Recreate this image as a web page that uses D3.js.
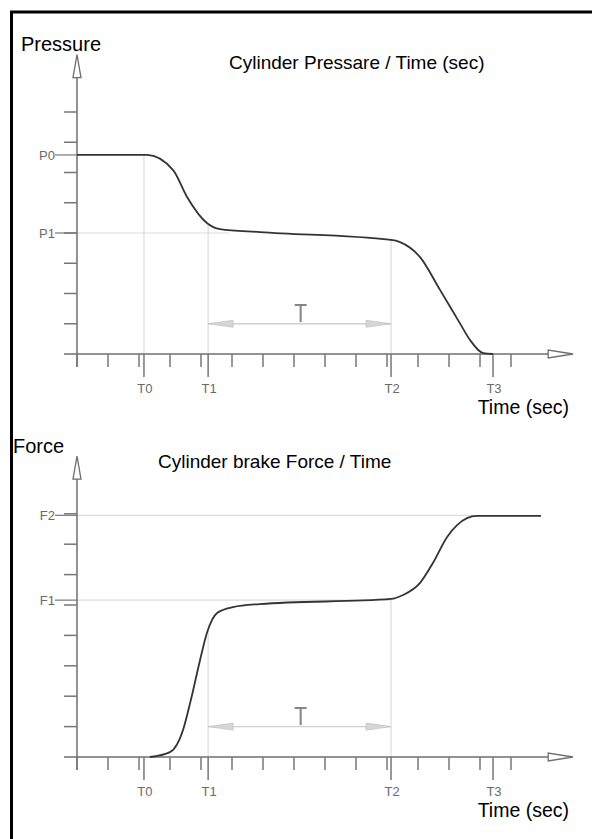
<!DOCTYPE html>
<html>
<head>
<meta charset="utf-8">
<script src="https://cdn.jsdelivr.net/npm/d3@7"></script>
<style>
  body { margin: 0; background: #fff; }
  svg { display: block; font-family: "Liberation Sans", Arial, sans-serif; }
</style>
</head>
<body>
<div class="render"></div>
<script>
// time axis is in "minor tick" units, value axes in y-tick units
var minorTicks = [0, 1, 2, 3, 4, 5, 6, 7, 8, 9, 10, 11, 12, 13, 14];
var valueTicks = [1, 2, 3, 4, 5, 6, 7, 8];
var markNames = ["T0", "T1", "T2", "T3"];
var markTimes = [2.16, 4.23, 10.13, 13.42];

// pressure curve
var pressureTime  = [0, 2.26, 3.10, 3.55, 4.19, 4.61, 5.90, 10.13, 10.42, 11.06, 11.71, 12.35, 12.68, 13.10, 13.42];
var pressureValue = [6.58, 6.58, 6.08, 5.19, 4.33, 4.13, 4.03, 3.77, 3.70, 3.21, 2.12, 1.02, 0.46, 0.03, 0];
var pressureLevels = ["P0", "P1"];
var pressureLevelValues = [6.58, 4.0];

// force curve
var forceTime  = [2.35, 3.0, 3.42, 3.65, 3.97, 4.19, 4.52, 5.03, 5.90, 10.13, 10.52, 11.06, 11.48, 11.94, 12.26, 12.90, 14.97];
var forceValue = [0, 0.16, 0.89, 1.78, 3.19, 4.08, 4.74, 4.93, 5.03, 5.20, 5.33, 5.72, 6.38, 7.24, 7.63, 7.93, 7.93];
var forceLevels = ["F1", "F2"];
var forceLevelValues = [5.16, 7.95];

var W = 592, H = 839;
var axisCol = "#6e6e6e", tickCol = "#777", gridCol = "#dcdcdc", curveCol = "#333";

var svg = d3.select(".render").append("svg")
    .attr("width", W)
    .attr("height", H);

svg.append("rect")
    .attr("width", W).attr("height", H)
    .attr("fill", "#fff");

// black frame, runs off the right and bottom edge
svg.append("rect")
    .attr("x", 11.5).attr("y", 12)
    .attr("width", 700).attr("height", 900)
    .attr("fill", "none")
    .attr("stroke", "#000")
    .attr("stroke-width", 3);

var x = d3.scaleLinear().domain([0, 16]).range([77, 573]);

function valueAt(times, values, t) {
    var i = d3.bisectLeft(times, t);
    if (i <= 0) return values[0];
    if (i >= times.length) return values[values.length - 1];
    var f = (t - times[i - 1]) / (times[i] - times[i - 1]);
    return values[i - 1] + f * (values[i] - values[i - 1]);
}

function pts(list) {
    return list.map(function (q) { return q.join(","); }).join(" ");
}

function draw_panel(p) {
    var y = d3.scaleLinear().domain([0, 10]).range([p.y0, p.y0 - 10 * p.unit]);
    var g = svg.append("g");

    // light grid lines
    p.vgrid.forEach(function (k) {
        var t = markTimes[k];
        var top = k == 0 && p.name == "P" ? pressureLevelValues[0] : valueAt(p.times, p.values, t);
        g.append("line")
            .attr("x1", x(t)).attr("x2", x(t))
            .attr("y1", y(top)).attr("y2", y(0))
            .attr("stroke", gridCol).attr("stroke-width", 1.2);
    });
    p.hgrid.forEach(function (h) {
        g.append("line")
            .attr("x1", x(0)).attr("x2", x(h[1]))
            .attr("y1", y(h[0])).attr("y2", y(h[0]))
            .attr("stroke", gridCol).attr("stroke-width", 1.2);
    });

    // T span arrow
    var ta = markTimes[1], tb = markTimes[2];
    var mid = (x(ta) + x(tb)) / 2 + 1;
    g.append("line")
        .attr("x1", x(ta)).attr("x2", x(tb))
        .attr("y1", y(1)).attr("y2", y(1))
        .attr("stroke", "#cfcfcf").attr("stroke-width", 1.4);
    [[ta, 1], [tb, -1]].forEach(function (a) {
        var px = x(a[0]), py = y(1), d = a[1];
        g.append("polygon")
            .attr("points", pts([[px, py], [px + d * 25, py - 3.5], [px + d * 25, py + 3.5]]))
            .attr("fill", "#d6d6d6").attr("stroke", "#c4c4c4").attr("stroke-width", 0.8);
    });
    g.append("text")
        .attr("x", mid)
        .attr("y", y(1) - 2)
        .attr("text-anchor", "middle")
        .attr("font-size", 26)
        .attr("fill", "#858585")
        .attr("transform", "translate(" + mid + ",0) scale(0.8,1) translate(" + (-mid) + ",0)")
        .text("T");

    // x axis with open arrow
    g.append("line")
        .attr("x1", x(0) - 13).attr("x2", x(15.2))
        .attr("y1", y(0)).attr("y2", y(0))
        .attr("stroke", axisCol).attr("stroke-width", 1.5);
    g.append("polygon")
        .attr("points", pts([[x(16), y(0)], [x(15.2), y(0) - 4], [x(15.2), y(0) + 4]]))
        .attr("fill", "#fff").attr("stroke", axisCol).attr("stroke-width", 1.3);

    // y axis with open arrow
    g.append("line")
        .attr("x1", x(0)).attr("x2", x(0))
        .attr("y1", y(0) + 13).attr("y2", y(9.9) + 23)
        .attr("stroke", axisCol).attr("stroke-width", 1.5);
    g.append("polygon")
        .attr("points", pts([[x(0), y(9.9)], [x(0) - 4, y(9.9) + 23], [x(0) + 4, y(9.9) + 23]]))
        .attr("fill", "#fff").attr("stroke", axisCol).attr("stroke-width", 1.3);

    // minor ticks
    g.selectAll(".xt").data(minorTicks).enter().append("line")
        .attr("x1", function (d) { return x(d); }).attr("x2", function (d) { return x(d); })
        .attr("y1", y(0)).attr("y2", y(0) + 13)
        .attr("stroke", tickCol).attr("stroke-width", 1.5);
    g.selectAll(".yt").data(valueTicks).enter().append("line")
        .attr("x1", x(0) - 13).attr("x2", x(0))
        .attr("y1", function (d) { return y(d); }).attr("y2", function (d) { return y(d); })
        .attr("stroke", tickCol).attr("stroke-width", 1.5);

    // T marks
    g.selectAll(".mt").data(markTimes).enter().append("line")
        .attr("x1", function (d) { return x(d); }).attr("x2", function (d) { return x(d); })
        .attr("y1", y(0)).attr("y2", y(0) + 23)
        .attr("stroke", tickCol).attr("stroke-width", 1.5);
    g.selectAll(".ml").data(markTimes).enter().append("text")
        .attr("x", function (d) { return x(d) + 1; })
        .attr("y", y(0) + 39)
        .attr("text-anchor", "middle")
        .attr("font-size", 13)
        .attr("fill", "#6a6a6a")
        .text(function (d, i) { return markNames[i]; });

    // level marks (P0/P1 or F1/F2)
    p.levelValues.forEach(function (v, i) {
        g.append("line")
            .attr("x1", x(0) - 22).attr("x2", x(0))
            .attr("y1", y(v)).attr("y2", y(v))
            .attr("stroke", tickCol).attr("stroke-width", 1.2);
        g.append("text")
            .attr("x", x(0) - 22)
            .attr("y", y(v) + 5)
            .attr("text-anchor", "end")
            .attr("font-size", 13)
            .attr("fill", "#6a6a6a")
            .text(p.levels[i]);
    });

    // the curve
    var line = d3.line()
        .x(function (d) { return x(d[0]); })
        .y(function (d) { return y(d[1]); })
        .curve(d3.curveMonotoneX);
    g.append("path")
        .datum(d3.zip(p.times, p.values))
        .attr("d", line)
        .attr("fill", "none")
        .attr("stroke", curveCol)
        .attr("stroke-width", 1.8);

    // texts
    g.append("text")
        .attr("x", p.ylabelX).attr("y", p.ylabelY)
        .attr("font-size", 20).attr("fill", "#000")
        .text(p.ylabel);
    g.append("text")
        .attr("x", p.titleX).attr("y", p.titleY)
        .attr("font-size", 19).attr("fill", "#000")
        .text(p.title);
    g.append("text")
        .attr("x", 569).attr("y", y(0) + 60)
        .attr("text-anchor", "end")
        .attr("font-size", 19.5).attr("fill", "#000")
        .text("Time (sec)");
}

draw_panel({
    name: "P", y0: 354, unit: 30.25,
    times: pressureTime, values: pressureValue,
    levels: pressureLevels, levelValues: pressureLevelValues,
    vgrid: [0, 1, 2], hgrid: [[4.0, 4.9]],
    ylabel: "Pressure", ylabelX: 21, ylabelY: 51,
    title: "Cylinder Pressare / Time (sec)", titleX: 229, titleY: 69
});

draw_panel({
    name: "F", y0: 757, unit: 30.4,
    times: forceTime, values: forceValue,
    levels: forceLevels, levelValues: forceLevelValues,
    vgrid: [1, 2], hgrid: [[5.16, 10.13], [7.95, 12.8]],
    ylabel: "Force", ylabelX: 13, ylabelY: 453,
    title: "Cylinder brake Force / Time", titleX: 158, titleY: 468
});
</script>
</body>
</html>
